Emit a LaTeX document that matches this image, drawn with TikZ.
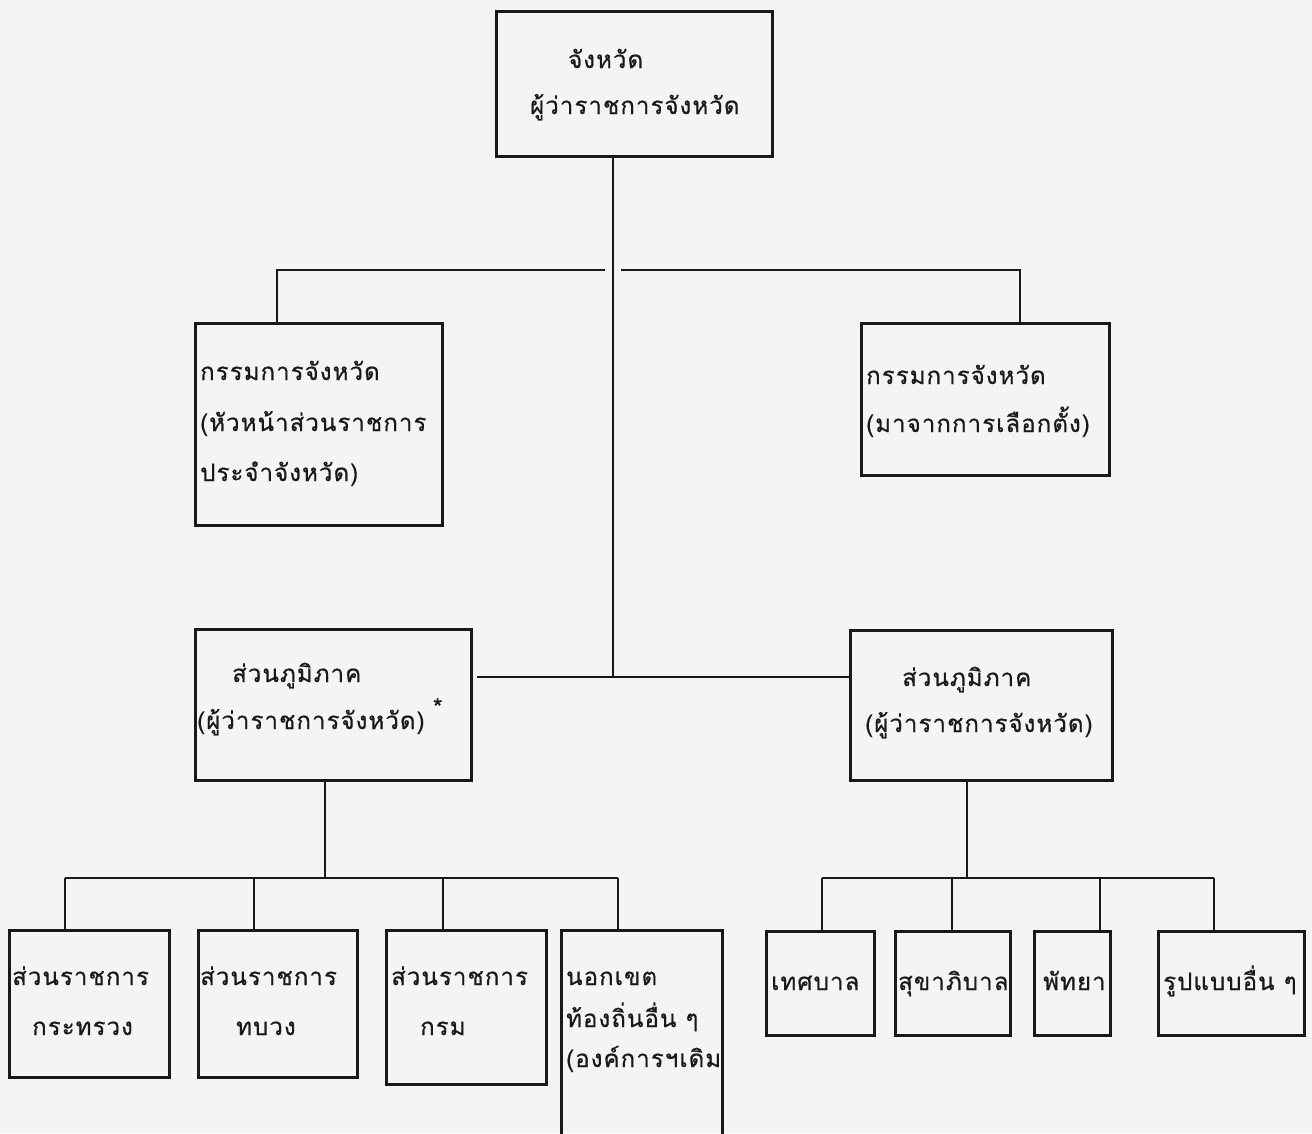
\documentclass[tikz,border=0pt]{standalone}
\usepackage{fontspec}
\newfontfamily\thai[Script=Thai, LetterSpace=4.5, FakeBold=0.6]{Loma}
\definecolor{ink}{RGB}{25,25,25}
\definecolor{paper}{RGB}{244,244,242}
\tikzset{
  box/.style={draw=ink, line width=2.5pt, inner sep=0pt, anchor=north west},
  lbl/.style={anchor=base west, inner sep=0pt, text=ink, font=\thai\fontsize{24}{28}\selectfont},
  wire/.style={draw=ink, line width=2.3pt}
}
\begin{document}
\begin{tikzpicture}[x=1pt,y=-1pt]
\clip (0,0) rectangle (1312,1133);
\fill[paper] (0,0) rectangle (1312,1133);
% boxes
\node[box, minimum width=276pt, minimum height=145pt] (top) at (495,10) {};
\node[box, minimum width=247pt, minimum height=202pt] (kl) at (194,322) {};
\node[box, minimum width=248pt, minimum height=152pt] (kr) at (860,322) {};
\node[box, minimum width=276pt, minimum height=151pt] (ml) at (194,628) {};
\node[box, minimum width=262pt, minimum height=150pt] (mr) at (849,629) {};
\node[box, minimum width=160pt, minimum height=147pt] (b1) at (8,929) {};
\node[box, minimum width=159pt, minimum height=147pt] (b2) at (197,929) {};
\node[box, minimum width=160pt, minimum height=154pt] (b3) at (385,929) {};
\node[box, minimum width=161pt, minimum height=230pt] (b4) at (560,929) {};
\node[box, minimum width=108pt, minimum height=104pt] (b5) at (765,930) {};
\node[box, minimum width=115pt, minimum height=104pt] (b6) at (894,930) {};
\node[box, minimum width=76pt, minimum height=104pt] (b7) at (1033,930) {};
\node[box, minimum width=146pt, minimum height=104pt] (b8) at (1157,930) {};
% texts
\node[lbl] (t1) at (568,68) {จังหวัด};
\node[lbl] (t2) at (530,114) {ผู้ว่าราชการจังหวัด};
\node[lbl] (kl1) at (200,380) {กรรมการจังหวัด};
\node[lbl] (kl2) at (200,431) {(หัวหน้าส่วนราชการ};
\node[lbl] (kl3) at (200,481) {ประจำจังหวัด)};
\node[lbl] (kr1) at (866,384) {กรรมการจังหวัด};
\node[lbl] (kr2) at (866,432) {(มาจากการเลือกตั้ง)};
\node[lbl] (ml1) at (232,682) {ส่วนภูมิภาค};
\node[lbl] (ml2) at (197,729) {(ผู้ว่าราชการจังหวัด)\hspace{0.35em}\raisebox{0.55em}{*}};
\node[lbl] (mr1) at (902,686) {ส่วนภูมิภาค};
\node[lbl] (mr2) at (865,732) {(ผู้ว่าราชการจังหวัด)};
\node[lbl] (b1a) at (12,985) {ส่วนราชการ};
\node[lbl] (b1b) at (32,1035) {กระทรวง};
\node[lbl] (b2a) at (200,985) {ส่วนราชการ};
\node[lbl] (b2b) at (236,1035) {ทบวง};
\node[lbl] (b3a) at (391,985) {ส่วนราชการ};
\node[lbl] (b3b) at (420,1035) {กรม};
\node[lbl] (b4a) at (566,985) {นอกเขต};
\node[lbl] (b4b) at (566,1027) {ท้องถิ่นอื่น ๆ};
\node[lbl] (b4c) at (566,1067) {(องค์การฯเดิม};
\node[lbl] (b5a) at (771,990) {เทศบาล};
\node[lbl] (b6a) at (898,990) {สุขาภิบาล};
\node[lbl] (b7a) at (1043,990) {พัทยา};
\node[lbl] (b8a) at (1163,990) {รูปแบบอื่น ๆ};
% junction coordinates
\coordinate (ja) at (613,270);
\coordinate (jb) at (613,677);
\coordinate (hl) at (277,270);
\coordinate (ga) at (605,270);
\coordinate (gb) at (621,270);
\coordinate (hr) at (1020,270);
\coordinate (mls) at (477,677);
\coordinate (lt) at (325,878);
\coordinate (d1) at (65,878);
\coordinate (d2) at (254,878);
\coordinate (d3) at (443,878);
\coordinate (d4) at (618,878);
\coordinate (rt) at (967,878);
\coordinate (e1) at (822,878);
\coordinate (e2) at (952,878);
\coordinate (e3) at (1100,878);
\coordinate (e4) at (1214,878);
% connectors
\draw[wire] (top.south -| ja) -- (jb);
\draw[wire] (kl.north -| hl) -- (hl) -- (ga);
\draw[wire] (gb) -- (hr) -- (kr.north -| hr);
\draw[wire] (mls) -- (mr.west |- mls);
\draw[wire] (ml.south -| lt) -- (lt);
\draw[wire] (d1) -- (d4);
\draw[wire] (d1) -- (b1.north -| d1);
\draw[wire] (d2) -- (b2.north -| d2);
\draw[wire] (d3) -- (b3.north -| d3);
\draw[wire] (d4) -- (b4.north -| d4);
\draw[wire] (mr.south -| rt) -- (rt);
\draw[wire] (e1) -- (e4);
\draw[wire] (e1) -- (b5.north -| e1);
\draw[wire] (e2) -- (b6.north -| e2);
\draw[wire] (e3) -- (b7.north -| e3);
\draw[wire] (e4) -- (b8.north -| e4);
\end{tikzpicture}
\end{document}
